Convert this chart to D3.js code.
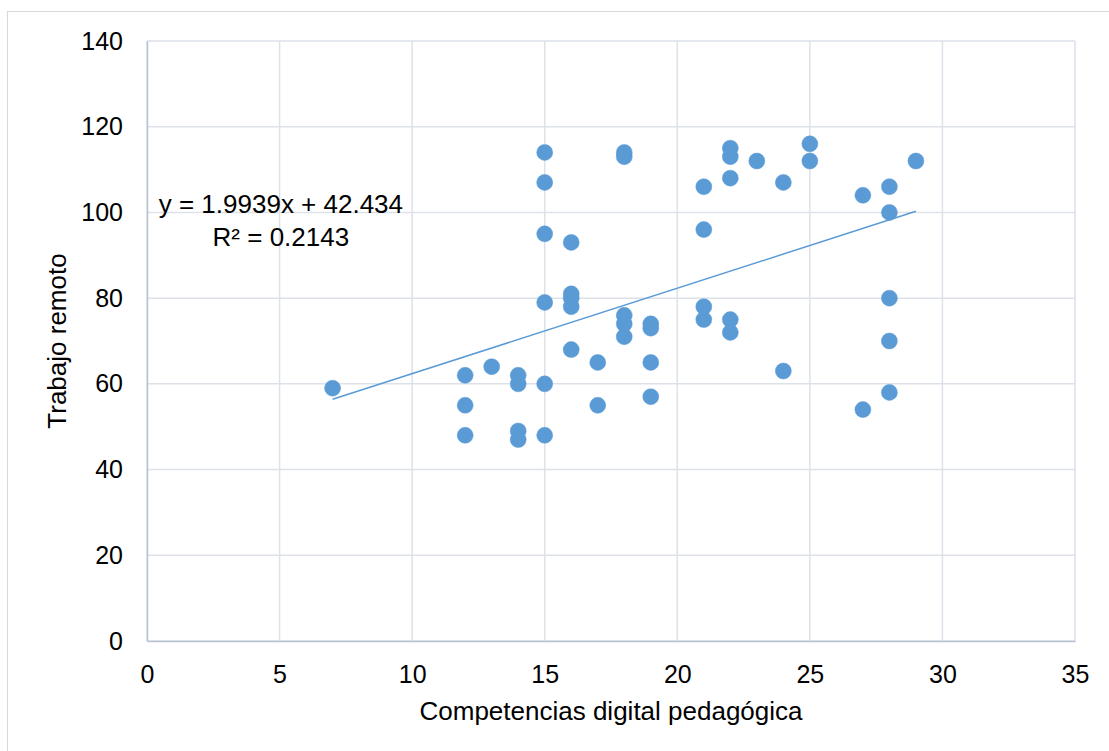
<!DOCTYPE html>
<html>
<head>
<meta charset="utf-8">
<script src="https://cdn.jsdelivr.net/npm/d3@7"></script>
<style>
  body { margin: 0; background: #fff; }
  text { font-family: "Liberation Sans", Arial, sans-serif; fill: #000; }
</style>
</head>
<body>
<div id="chart"></div>
<script>
// data
let competencias = [7, 12, 12, 12, 13, 14, 14, 14, 14, 15, 15, 15, 15, 15, 15,
    16, 16, 16, 16, 16, 17, 17, 18, 18, 18, 18, 18, 19, 19, 19, 19,
    21, 21, 21, 21, 22, 22, 22, 22, 22, 23, 24, 24, 25, 25, 27, 27,
    28, 28, 28, 28, 28, 29];
let trabajo = [59, 62, 55, 48, 64, 62, 60, 49, 47, 114, 107, 95, 79, 60, 48,
    93, 81, 80, 78, 68, 65, 55, 114, 113, 76, 74, 71, 74, 73, 65, 57,
    106, 96, 78, 75, 115, 113, 108, 75, 72, 112, 107, 63, 116, 112, 104, 54,
    106, 100, 80, 70, 58, 112];
let xTicks = [0, 5, 10, 15, 20, 25, 30, 35];
let yTicks = [0, 20, 40, 60, 80, 100, 120, 140];
let slope = 1.9939, intercept = 42.434;
let eqLabel = "y = 1.9939x + 42.434";
let r2Label = "R² = 0.2143";

let margin = {top: 41, right: 34, bottom: 110, left: 147};
let W = 1109, H = 751;
let width = W - margin.left - margin.right;
let height = H - margin.top - margin.bottom;

let svg = d3.select("#chart").append("svg")
    .attr("width", W)
    .attr("height", H);

// outer chart border
svg.append("rect")
    .attr("x", 7.5).attr("y", 11.5)
    .attr("width", W).attr("height", H)
    .attr("fill", "none")
    .attr("stroke", "#d9d9d9");

let g = svg.append("g")
    .attr("transform", `translate(${margin.left}, ${margin.top})`);

let x = d3.scaleLinear().domain([0, 35]).range([0, width]);
let y = d3.scaleLinear().domain([0, 140]).range([height, 0]);

// grid
g.append("g").selectAll("line.vg")
    .data(xTicks)
    .enter().append("line")
    .attr("x1", d => x(d)).attr("x2", d => x(d))
    .attr("y1", 0).attr("y2", height)
    .attr("stroke", "#dde1e8").attr("stroke-width", 1.5);
g.append("g").selectAll("line.hg")
    .data(yTicks)
    .enter().append("line")
    .attr("x1", 0).attr("x2", width)
    .attr("y1", d => y(d)).attr("y2", d => y(d))
    .attr("stroke", "#dde1e8").attr("stroke-width", 1.5);

// axes
let xAxis = d3.axisBottom(x).tickValues(xTicks).tickSize(0).tickPadding(24);
let yAxis = d3.axisLeft(y).tickValues(yTicks).tickSize(0).tickPadding(24);

g.append("g")
    .attr("transform", `translate(0, ${height})`)
    .call(xAxis)
    .call(a => a.select(".domain").attr("stroke", "#b9c3d3").attr("stroke-width", 1.5))
    .selectAll("text")
    .attr("font-size", 25)
    .attr("font-family", "Liberation Sans, Arial, sans-serif");

g.append("g")
    .call(yAxis)
    .call(a => a.select(".domain").attr("stroke", "#b9c3d3").attr("stroke-width", 1.5))
    .selectAll("text")
    .attr("font-size", 25)
    .attr("font-family", "Liberation Sans, Arial, sans-serif");

// trend line
let xMin = d3.min(competencias), xMax = d3.max(competencias);
g.append("line")
    .attr("x1", x(xMin)).attr("y1", y(slope * xMin + intercept))
    .attr("x2", x(xMax)).attr("y2", y(slope * xMax + intercept))
    .attr("stroke", "#5b9bd5")
    .attr("stroke-width", 1.5);

// points
let pts = competencias.map((c, i) => ({c: c, t: trabajo[i]}));
g.append("g").selectAll("circle")
    .data(pts)
    .enter().append("circle")
    .attr("cx", d => x(d.c))
    .attr("cy", d => y(d.t))
    .attr("r", 8)
    .attr("fill", "#5b9bd5")
    .attr("stroke", "#5b9bd5")
    .attr("stroke-width", 0.5);

// equation
g.append("text")
    .attr("x", x(5.05)).attr("y", y(99.87))
    .attr("text-anchor", "middle")
    .attr("font-size", 26)
    .text(eqLabel);
g.append("text")
    .attr("x", x(5.05)).attr("y", y(92.17))
    .attr("text-anchor", "middle")
    .attr("font-size", 26)
    .text(r2Label);

// axis titles
svg.append("text")
    .attr("x", margin.left + width / 2)
    .attr("y", 720)
    .attr("text-anchor", "middle")
    .attr("font-size", 26)
    .text("Competencias digital pedagógica");

svg.append("text")
    .attr("transform", `translate(66, ${margin.top + height / 2}) rotate(-90)`)
    .attr("text-anchor", "middle")
    .attr("font-size", 26)
    .text("Trabajo remoto");
</script>
</body>
</html>
